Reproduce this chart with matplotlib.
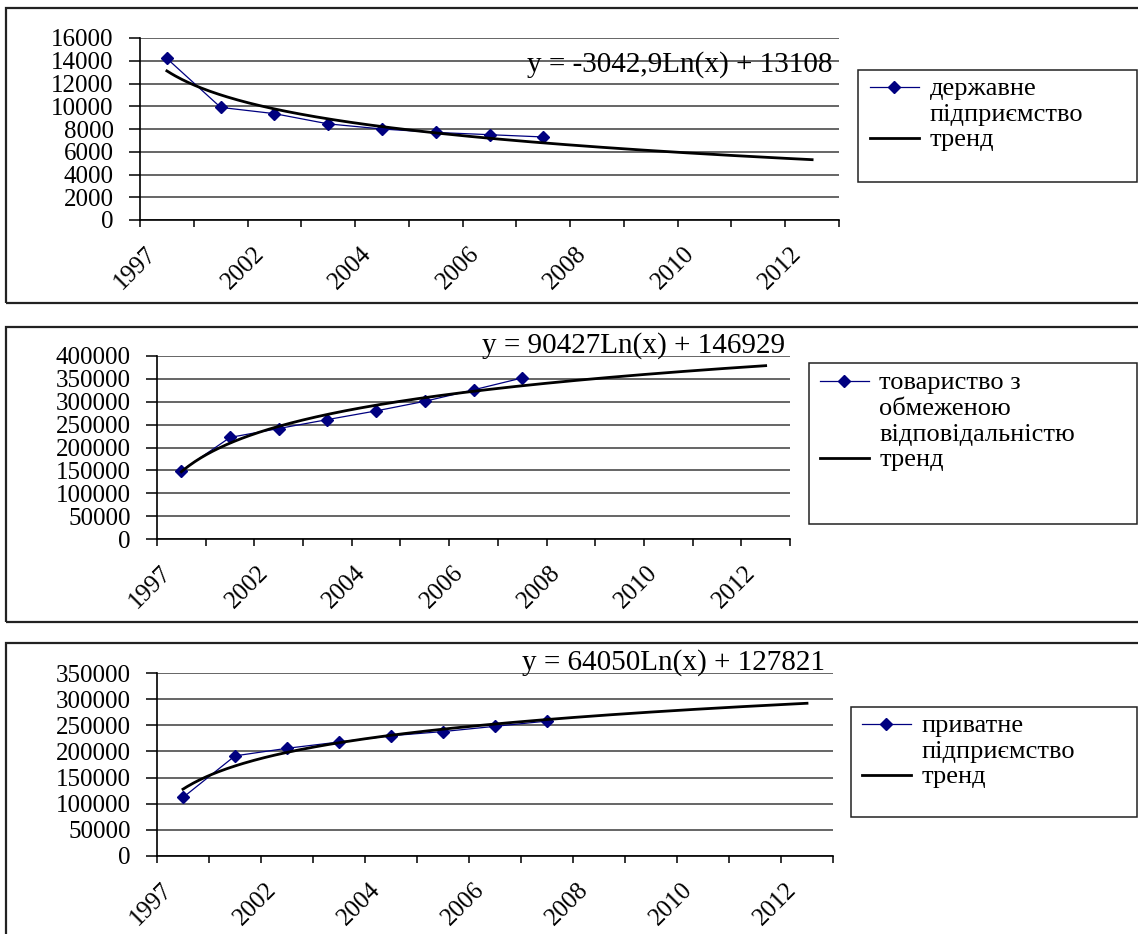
"""
Three Excel-style charts: counts by enterprise type with logarithmic trend lines
"""

import numpy as np
import matplotlib
matplotlib.use('Agg')
import matplotlib.pyplot as plt
from matplotlib.patches import Rectangle
from matplotlib.transforms import ScaledTranslation

plt.rcParams['font.family'] = ['Liberation Serif', 'DejaVu Serif']

# categories on the x axis (labels shown on every second one)
years = ['1997', '2001', '2002', '2003', '2004', '2005', '2006',
         '2007', '2008', '2009', '2010', '2011', '2012']

# observed values 1997, 2001-2007
state_values = [14200, 9900, 9350, 8450, 8000, 7700, 7500, 7300]
llc_values = [149000, 222000, 241500, 261000, 280000, 301000, 326000, 352000]
private_values = [112000, 191500, 206000, 218000, 230000, 238000, 248000, 258000]

# logarithmic trend coefficients shown on the charts: y = a*Ln(x) + b
state_trend = (-3042.9, 13108)
llc_trend = (90427, 146929)
private_trend = (64050, 127821)

state_eq = 'y = -3042,9Ln(x) + 13108'
llc_eq = 'y = 90427Ln(x) + 146929'
private_eq = 'y = 64050Ln(x) + 127821'

state_label = 'державне\nпідприємство'
llc_label = 'товариство з\nобмеженою\nвідповідальністю'
private_label = 'приватне\nпідприємство'
trend_label = 'тренд'

W, H = 1138, 934
fig = plt.figure(figsize=(W / 100, H / 100), dpi=100)


def px_rect(x0, y0, x1, y1):
    """pixel box (top-left origin) -> figure fraction [l, b, w, h]"""
    return [x0 / W, 1 - y1 / H, (x1 - x0) / W, (y1 - y0) / H]


def draw_panel(frame, axbox, values, trend, ymax, ystep, eq, eq_xy,
               label, leg_xy, leg_box):
    # outer chart-area frame
    l, b, w, h = px_rect(*frame)
    fig.add_artist(Rectangle((l, b), w, h, transform=fig.transFigure,
                             fill=False, lw=1.6, ec='#222222'))

    ax = fig.add_axes(px_rect(*axbox))
    x = np.arange(len(values))
    ax.plot(x, values, color='#000080', lw=0.9, marker='D', ms=6,
            label=label, zorder=3)
    a, c = trend
    xt = np.linspace(1, len(years), 300)
    ax.plot(xt - 1, a * np.log(xt) + c, color='black', lw=2,
            label=trend_label, zorder=4)

    ax.set_xlim(-0.5, len(years) - 0.5)
    ax.set_ylim(0, ymax)
    ax.set_yticks(np.arange(0, ymax + 1, ystep))
    ax.yaxis.grid(True, color='#3c3c3c', lw=1.1)
    ax.set_axisbelow(True)
    for s in ['top', 'right']:
        ax.spines[s].set_visible(False)
    for s in ['left', 'bottom']:
        ax.spines[s].set_linewidth(1.2)
    ax.tick_params(axis='y', length=8, width=1.1, pad=11, labelsize=18)

    ax.set_xticks(np.arange(-0.5, len(years), 1), minor=True)
    ax.tick_params(axis='x', which='minor', length=5, width=1.1)
    ax.set_xticks(range(0, len(years), 2))
    ax.set_xticklabels(years[::2], rotation=45, ha='right', va='center',
                       rotation_mode='anchor', fontsize=18)
    ax.tick_params(axis='x', which='major', length=0, pad=22)
    off = ScaledTranslation(-10 / 72, 0, fig.dpi_scale_trans)
    for lab in ax.get_xticklabels():
        lab.set_transform(lab.get_transform() + off)

    ax.text(eq_xy[0], eq_xy[1], eq, transform=ax.transAxes, ha='right',
            va='baseline', fontsize=21)

    # legend
    l, b, w, h = px_rect(*leg_box)
    fig.add_artist(Rectangle((l, b), w, h, transform=fig.transFigure,
                             fill=False, lw=1.1, ec='#222222'))
    leg = ax.legend(loc='upper left',
                    bbox_to_anchor=(leg_xy[0] / W, 1 - leg_xy[1] / H),
                    bbox_transform=fig.transFigure, frameon=False, fontsize=19,
                    borderpad=0, borderaxespad=0, handlelength=1.85,
                    handletextpad=0.4, labelspacing=0.1)
    for t in leg.get_texts():
        t.set_linespacing(1.25)
    # keep each handle next to the first line of its label, as Excel does
    for col in leg._legend_handle_box.get_children():
        for item in col.get_children():
            item.align = 'top'
    return ax


draw_panel((6, 8, 1145, 303), (140, 38, 839, 220), state_values, state_trend,
           16000, 2000, state_eq, (0.991, 0.813), state_label,
           (870, 78), (858, 70, 1137, 182))

draw_panel((6, 327, 1145, 622), (157, 356, 790, 539), llc_values, llc_trend,
           400000, 50000, llc_eq, (0.992, 1.016), llc_label,
           (820, 372), (809, 363, 1137, 524))

draw_panel((6, 643, 1145, 945), (157, 673, 833, 856), private_values,
           private_trend, 350000, 50000, private_eq, (0.988, 1.016),
           private_label, (862, 715), (851, 707, 1137, 817))

fig.savefig('out.png', dpi=100)
